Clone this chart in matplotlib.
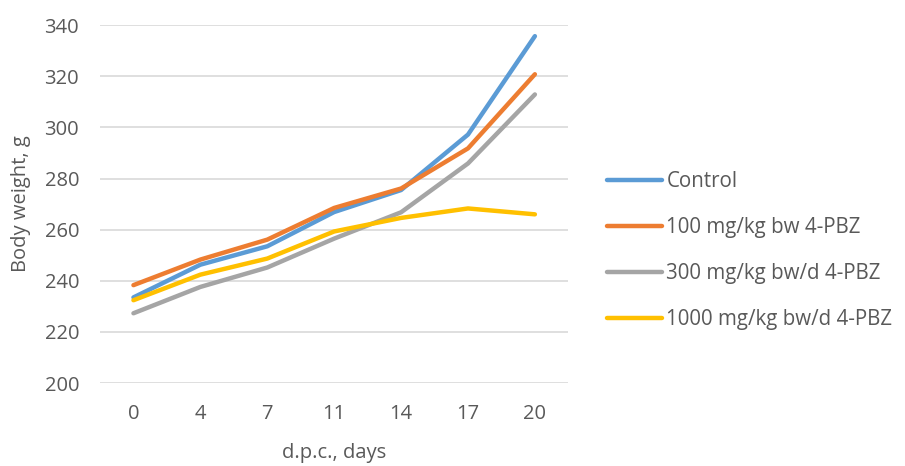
import matplotlib
matplotlib.use("Agg")
import matplotlib.pyplot as plt

days = ["0", "4", "7", "11", "14", "17", "20"]
control = [233.5, 246.3, 253.5, 266.9, 275.5, 297.2, 335.7]
dose100 = [238.3, 248.3, 256.1, 268.5, 276.1, 291.8, 320.8]
dose300 = [227.3, 237.6, 245.2, 256.5, 266.8, 285.9, 312.9]
dose1000 = [232.4, 242.4, 248.7, 259.3, 264.6, 268.3, 266.0]
series_names = ["Control", "100 mg/kg bw 4-PBZ", "300 mg/kg bw/d 4-PBZ", "1000 mg/kg bw/d 4-PBZ"]
colors = ["#5B9BD5", "#ED7D31", "#A5A5A5", "#FFC000"]

plt.rcParams['font.family'] = ['Open Sans', 'DejaVu Sans']
fig = plt.figure(figsize=(9.05, 4.66), dpi=100)
ax = fig.add_axes([0.1105, 0.178, 0.5175, 0.768])

x = list(range(len(days)))
for vals, name, c in zip([control, dose100, dose300, dose1000], series_names, colors):
    ax.plot(x, vals, color=c, lw=3.2, label=name, solid_capstyle='round', solid_joinstyle='round')

ax.set_xlim(-0.5, len(days) - 0.5)
ax.set_ylim(200, 340)
ax.set_yticks(range(200, 341, 20))
ax.set_xticks(x)
ax.set_xticklabels(days)
ax.grid(axis='y', color='#d9d9d9', lw=1.2)
ax.set_axisbelow(True)
for s in ax.spines.values():
    s.set_visible(False)
ax.tick_params(length=0, labelsize=14.5, colors='#595959')
ax.tick_params(axis='y', pad=15)
ax.tick_params(axis='x', pad=15)
ax.set_ylabel("Body weight, g", fontsize=14.5, color='#595959', va='center')
ax.yaxis.set_label_coords(-0.168, 0.5)
ax.set_xlabel("d.p.c., days", fontsize=14.5, color='#595959', va='center')
ax.xaxis.set_label_coords(0.5, -0.195)

leg = ax.legend(loc='center left', bbox_to_anchor=(1.082, 0.37), frameon=False,
                fontsize=14.8, handlelength=2.7, handletextpad=0.2, labelspacing=1.22,
                borderpad=0, borderaxespad=0, labelcolor='#595959')

fig.savefig("out.png", dpi=100)
